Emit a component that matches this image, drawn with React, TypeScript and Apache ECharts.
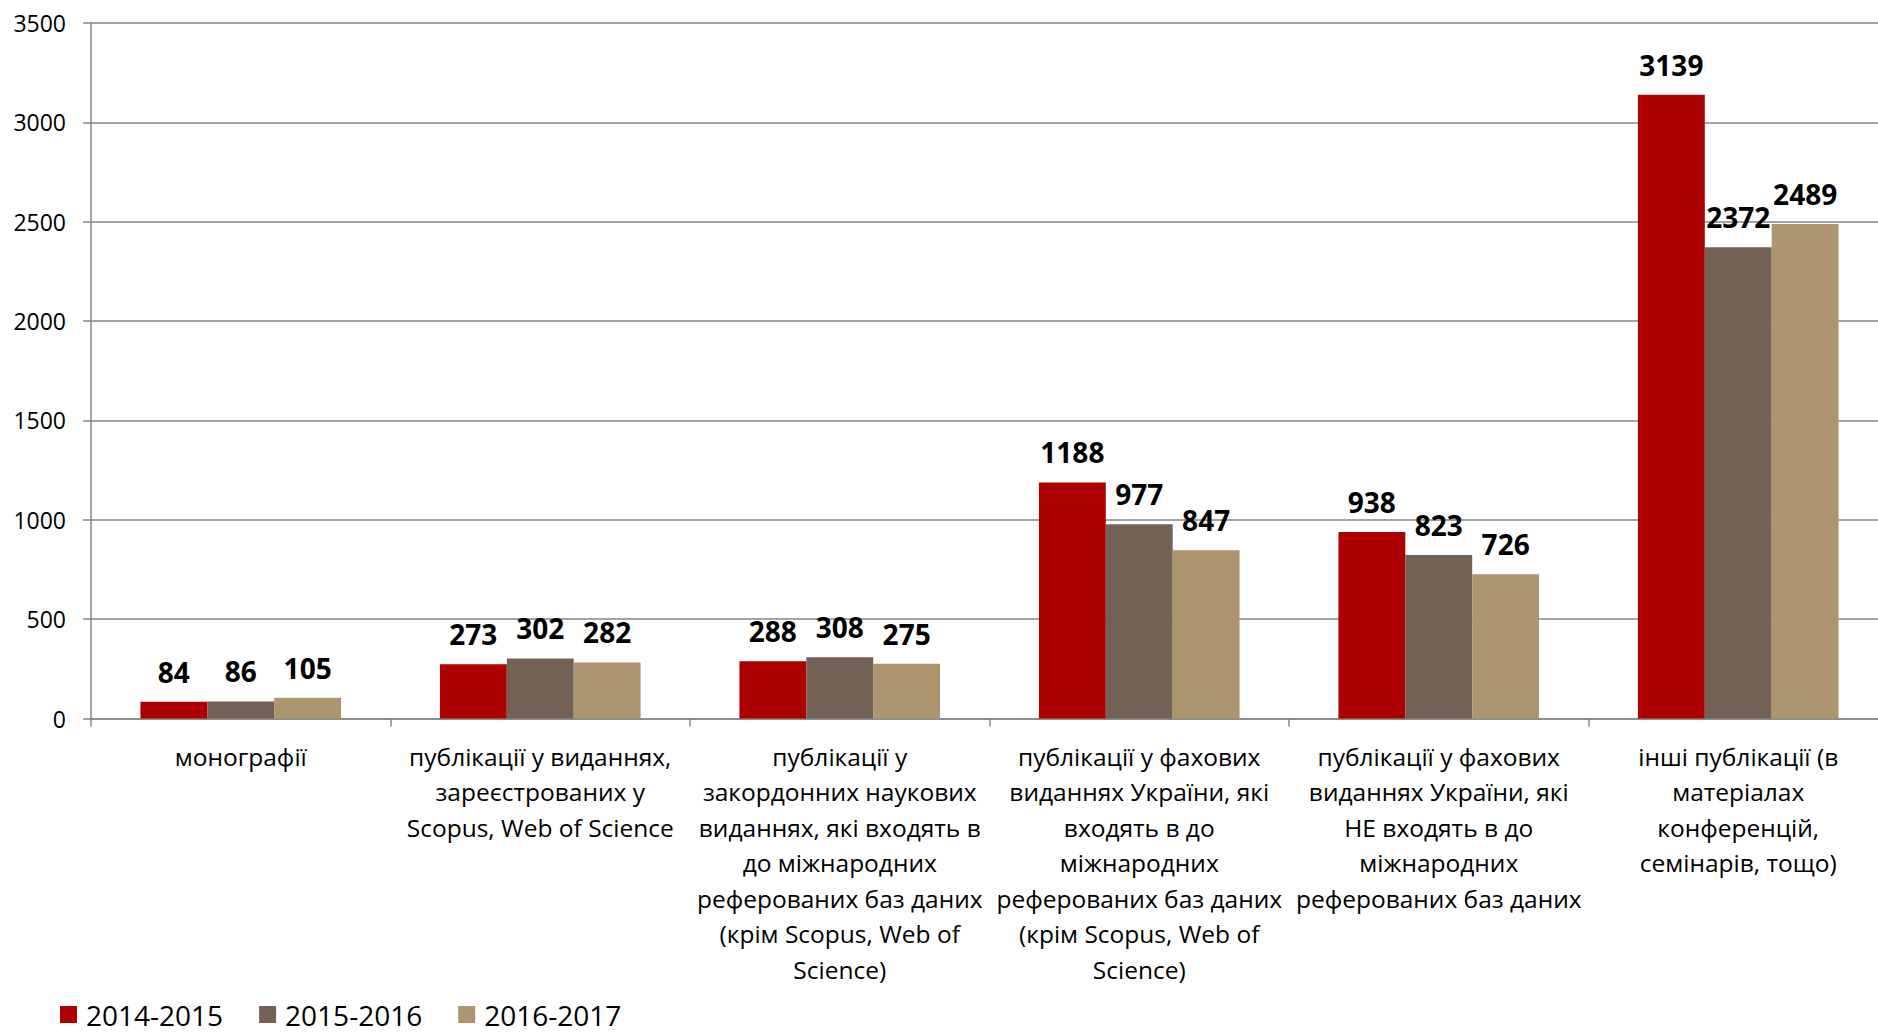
import React, { useEffect, useRef } from "react";
import * as echarts from "echarts";

const categories: string[] = [
  "монографії",
  "публікації у виданнях,\nзареєстрованих у\nScopus, Web of Science",
  "публікації у\nзакордонних наукових\nвиданнях, які входять в\nдо міжнародних\nреферованих баз даних\n(крім Scopus, Web of\nScience)",
  "публікації у фахових\nвиданнях України, які\nвходять в до\nміжнародних\nреферованих баз даних\n(крім Scopus, Web of\nScience)",
  "публікації у фахових\nвиданнях України, які\nНЕ входять в до\nміжнародних\nреферованих баз даних",
  "інші публікації (в\nматеріалах\nконференцій,\nсемінарів, тощо)",
];

const seriesNames: string[] = ["2014-2015", "2015-2016", "2016-2017"];
const values2014: number[] = [84, 273, 288, 1188, 938, 3139];
const values2015: number[] = [86, 302, 308, 977, 823, 2372];
const values2016: number[] = [105, 282, 275, 847, 726, 2489];
const colors: string[] = ["#AD0000", "#736155", "#AD9570"];

const FONT = "'Open Sans', 'Noto Sans', sans-serif";

export default function App() {
  const ref = useRef<HTMLDivElement>(null);
  useEffect(() => {
    if (!ref.current) return;
    const chart = echarts.init(ref.current, undefined, { renderer: "svg" });
    const allValues = [values2014, values2015, values2016];
    chart.setOption({
      animation: false,
      backgroundColor: "#ffffff",
      textStyle: { fontFamily: FONT },
      grid: { left: 91, right: 0, top: 23, bottom: 316.5, containLabel: false },
      legend: {
        left: 60,
        top: 1000,
        padding: 0,
        itemWidth: 17,
        itemHeight: 17,
        itemGap: 36,
        icon: "rect",
        textStyle: {
          fontSize: 28,
          lineHeight: 29,
          color: "#000",
          fontFamily: FONT,
          padding: [0, 0, 0, 4],
        },
        data: seriesNames,
      },
      xAxis: {
        type: "category",
        data: categories,
        axisLine: { lineStyle: { color: "#868686", width: 1.5 } },
        axisTick: { show: true, length: 8, lineStyle: { color: "#868686", width: 1.5 } },
        axisLabel: {
          interval: 0,
          color: "#000",
          fontSize: 24.5,
          lineHeight: 35.5,
          margin: 20,
          fontFamily: FONT,
        },
      },
      yAxis: {
        type: "value",
        min: 0,
        max: 3500,
        interval: 500,
        axisLine: { show: true, lineStyle: { color: "#868686", width: 1.5 } },
        axisTick: { show: true, length: 8, lineStyle: { color: "#868686", width: 1.5 } },
        splitLine: { lineStyle: { color: "#868686", width: 1.5 } },
        axisLabel: {
          color: "#000",
          fontSize: 23,
          margin: 25,
          fontFamily: FONT,
          formatter: (v: number) => String(v),
        },
      },
      series: seriesNames.map((name, i) => ({
        name,
        type: "bar",
        data: allValues[i],
        barGap: "0%",
        barCategoryGap: "33%",
        itemStyle: { color: colors[i] },
        label: {
          show: true,
          position: "top",
          distance: 16,
          color: "#000",
          fontWeight: "bold",
          fontSize: 28,
          fontFamily: FONT,
        },
      })),
    });
    return () => chart.dispose();
  }, []);
  return (
    <div
      ref={ref}
      style={{ position: "fixed", left: 0, top: 0, width: 1888, height: 1035 }}
    />
  );
}
